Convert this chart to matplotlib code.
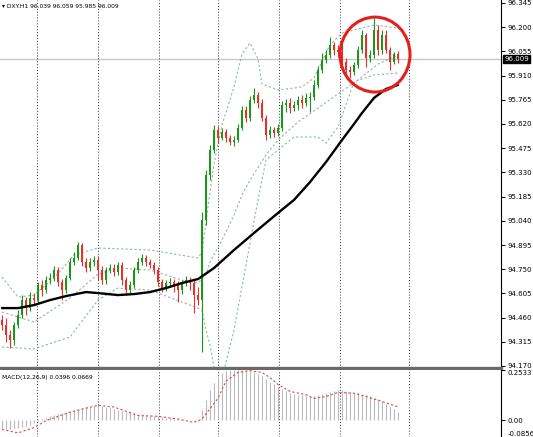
"""DXY H1 candlestick chart with Bollinger bands, MA and MACD panel (MT4 style)."""

import matplotlib

matplotlib.use("Agg")
import matplotlib.pyplot as plt
import matplotlib.transforms as mtransforms
from matplotlib.patches import Ellipse
import numpy as np

TITLE = "\u25be DXY.H1 96.039 96.059 95.985 96.009"
MACD_TITLE = "MACD(12,26,9) 0.0396 0.0669"

first_open = 94.446
closes = [94.416, 94.356, 94.326, 94.416, 94.475, 94.565, 94.517, 94.577, 94.565, 94.655,
          94.625, 94.685, 94.697, 94.745, 94.673, 94.625, 94.697, 94.793, 94.817, 94.895,
          94.793, 94.757, 94.793, 94.805, 94.745, 94.685, 94.745, 94.757, 94.733, 94.775,
          94.685, 94.625, 94.655, 94.745, 94.793, 94.817, 94.793, 94.775, 94.745, 94.673,
          94.637, 94.667, 94.673, 94.655, 94.625, 94.667, 94.685, 94.667, 94.595, 94.565,
          95.045, 95.314, 95.464, 95.584, 95.536, 95.572, 95.536, 95.512, 95.524, 95.596,
          95.704, 95.656, 95.764, 95.794, 95.746, 95.656, 95.554, 95.584, 95.566, 95.596,
          95.734, 95.746, 95.716, 95.734, 95.764, 95.746, 95.776, 95.782, 95.854, 95.944,
          96.003, 96.033, 96.093, 96.063, 96.051, 95.991, 95.944, 95.932, 95.973, 96.063,
          96.153, 96.015, 96.033, 96.183, 96.063, 96.153, 96.063, 95.991, 96.039, 96.009]
highs = [94.475, 94.457, 94.386, 94.434, 94.505, 94.595, 94.583, 94.613, 94.607, 94.673,
         94.685, 94.709, 94.727, 94.769, 94.763, 94.691, 94.715, 94.817, 94.853, 94.913,
         94.907, 94.817, 94.817, 94.829, 94.829, 94.769, 94.763, 94.781, 94.781, 94.793,
         94.793, 94.703, 94.679, 94.763, 94.817, 94.841, 94.835, 94.811, 94.793, 94.763,
         94.691, 94.685, 94.697, 94.691, 94.679, 94.685, 94.709, 94.703, 94.685, 94.643,
         95.093, 95.344, 95.494, 95.614, 95.608, 95.596, 95.590, 95.554, 95.548, 95.620,
         95.728, 95.728, 95.788, 95.836, 95.812, 95.770, 95.674, 95.608, 95.602, 95.620,
         95.758, 95.770, 95.776, 95.758, 95.788, 95.794, 95.806, 95.812, 95.884, 95.967,
         96.045, 96.063, 96.141, 96.111, 96.093, 96.099, 96.015, 95.967, 95.991, 96.087,
         96.183, 96.165, 96.063, 96.255, 96.213, 96.183, 96.183, 96.081, 96.051, 96.059]
lows = [94.386, 94.314, 94.278, 94.296, 94.398, 94.457, 94.475, 94.499, 94.535, 94.547,
        94.589, 94.607, 94.661, 94.679, 94.649, 94.565, 94.607, 94.685, 94.775, 94.805,
        94.769, 94.733, 94.739, 94.769, 94.685, 94.661, 94.661, 94.727, 94.709, 94.715,
        94.655, 94.595, 94.607, 94.637, 94.727, 94.775, 94.769, 94.757, 94.721, 94.649,
        94.613, 94.619, 94.643, 94.613, 94.553, 94.601, 94.649, 94.625, 94.487, 94.535,
        94.254, 95.015, 95.284, 95.446, 95.506, 95.524, 95.512, 95.494, 95.488, 95.512,
        95.584, 95.632, 95.638, 95.746, 95.716, 95.638, 95.524, 95.536, 95.542, 95.548,
        95.578, 95.692, 95.686, 95.698, 95.704, 95.716, 95.728, 95.692, 95.764, 95.836,
        95.926, 95.985, 96.015, 96.033, 96.021, 95.973, 95.926, 95.896, 95.914, 95.955,
        96.045, 95.961, 95.991, 96.015, 96.033, 96.039, 96.045, 95.944, 95.979, 95.985]

# moving average (black), read at a few bars
ma_idx = [0, 4, 8, 12, 16, 21, 24, 29, 33, 37, 41, 45, 49, 53, 58, 63, 69, 73, 77, 81,
          85, 88, 90, 93, 96, 99]
ma_val = [94.517, 94.517, 94.535, 94.565, 94.589, 94.613, 94.607, 94.595, 94.601, 94.613,
          94.637, 94.667, 94.691, 94.757, 94.865, 94.967, 95.087, 95.165, 95.272, 95.392,
          95.524, 95.620, 95.686, 95.776, 95.830, 95.854]

# bollinger bands, read at a few bars
bb_up_idx = [0, 4, 8, 13, 18, 24, 37, 49, 50, 51, 52, 53, 54, 55, 58, 60, 62, 64, 65, 69,
             75, 78, 82, 85, 88, 93, 99]
bb_up_val = [94.703, 94.583, 94.595, 94.697, 94.835, 94.877, 94.865, 94.817, 94.853, 95.033,
             95.213, 95.380, 95.500, 95.614, 95.842, 96.040, 96.105, 96.010, 95.860, 95.824,
             95.842, 95.896, 96.093, 96.165, 96.183, 96.213, 96.195]
bb_mid_idx = [0, 8, 17, 24, 29, 37, 45, 49, 50, 51, 52, 55, 58, 60, 62, 66, 69, 74, 79, 84,
              89, 94, 99]
bb_mid_val = [94.493, 94.434, 94.577, 94.721, 94.757, 94.745, 94.685, 94.667, 94.691, 94.721,
              94.793, 94.925, 95.075, 95.195, 95.284, 95.434, 95.524, 95.632, 95.716, 95.800,
              95.884, 95.979, 96.033]
bb_lo_idx = [0, 8, 17, 24, 29, 37, 49, 50, 51, 52, 53, 54, 55, 56, 58, 61, 64, 66, 69, 73,
             79, 81, 84, 88, 93, 99]
bb_lo_val = [94.284, 94.272, 94.344, 94.565, 94.637, 94.625, 94.517, 94.505, 94.386, 94.296,
             94.158, 94.086, 94.098, 94.194, 94.386, 94.775, 95.165, 95.404, 95.464, 95.542,
             95.542, 95.506, 95.602, 95.872, 95.914, 95.926]

macd_hist = [-0.040, -0.045, -0.045, -0.042, -0.040, -0.036, -0.030, -0.024, -0.015, -0.006,
             0.004, 0.012, 0.020, 0.026, 0.031, 0.036, 0.041, 0.046, 0.051, 0.056,
             0.061, 0.064, 0.067, 0.071, 0.075, 0.072, 0.068, 0.063, 0.058, 0.053,
             0.048, 0.043, 0.039, 0.035, 0.032, 0.029, 0.027, 0.025, 0.022, 0.019,
             0.016, 0.012, 0.009, 0.006, 0.004, 0.003, 0.002, 0.000, -0.003, -0.006,
             0.050, 0.100, 0.150, 0.190, 0.220, 0.238, 0.248, 0.252, 0.253, 0.253,
             0.252, 0.250, 0.247, 0.242, 0.234, 0.222, 0.208, 0.194, 0.180, 0.166,
             0.155, 0.146, 0.139, 0.133, 0.128, 0.125, 0.123, 0.122, 0.124, 0.128,
             0.132, 0.136, 0.141, 0.146, 0.150, 0.150, 0.147, 0.143, 0.139, 0.135,
             0.131, 0.126, 0.120, 0.114, 0.107, 0.095, 0.082, 0.068, 0.054, 0.040]
signal_idx = [0, 4, 8, 11, 17, 24, 28, 34, 39, 44, 48, 50, 54, 56, 59, 62, 65, 67, 69, 72,
              76, 78, 81, 84, 88, 91, 94, 99]
signal_val = [-0.047, -0.065, -0.038, -0.003, 0.040, 0.075, 0.066, 0.023, 0.019, 0.005,
              -0.012, 0.005, 0.110, 0.197, 0.241, 0.250, 0.241, 0.215, 0.180, 0.145,
              0.128, 0.110, 0.119, 0.140, 0.136, 0.119, 0.101, 0.067]

price_ticks = [96.345, 96.200, 96.055, 95.910, 95.765, 95.620, 95.475, 95.330, 95.185,
               95.040, 94.895, 94.750, 94.605, 94.460, 94.315, 94.170]
macd_ticks = [0.2533, 0.0, -0.0856]
day_breaks = [8.75, 24, 39.25, 54, 69.25, 84.5, 101.75]

W, H = 533, 437
PLOT_W = 501
MAIN_BOTTOM = 368
SUB_TOP = 370
XLIM = (-0.5, 124.75)
GREEN = "#1a961a"
RED = "#e8302a"
BAND = "#93b5aa"
FS = 5.0
FS_SMALL = 4.3


def style_axis(ax):
    ax.set_xlim(*XLIM)
    ax.set_xticks([])
    ax.yaxis.tick_right()
    ax.tick_params(axis="y", direction="out", length=3, width=0.7, labelsize=FS, pad=1.5)
    for side in ("left", "top", "bottom"):
        ax.spines[side].set_visible(False)
    ax.spines["right"].set_linewidth(0.8)
    for x in day_breaks:
        ax.axvline(x, color="#333333", lw=0.7, ls=(0, (1, 2)), zorder=1)


def draw_candles(ax):
    c = np.array(closes)
    o = np.r_[first_open, c[:-1]]
    h = np.array(highs)
    lo = np.array(lows)
    idx = np.arange(len(c))
    up = c >= o
    colors = np.where(up, GREEN, RED)
    ax.vlines(idx, lo, h, colors=colors, lw=0.8, zorder=3)
    body = np.where(np.abs(c - o) < 0.002, 0.002, c - o)
    ax.bar(idx, body, bottom=o, width=0.7, color=colors, lw=0, zorder=4)


fig = plt.figure(figsize=(W / 100, H / 100), dpi=100)
ax = fig.add_axes([0, 1 - MAIN_BOTTOM / H, PLOT_W / W, MAIN_BOTTOM / H])
ax2 = fig.add_axes([0, 0, PLOT_W / W, (H - SUB_TOP) / H])

# main price panel
style_axis(ax)
px = 0.145 / 24.2
ax.set_ylim(price_ticks[-1] - 2 * px, price_ticks[0] + 3 * px)
ax.set_yticks(price_ticks)
ax.set_yticklabels([f"{t:.3f}" for t in price_ticks])
ax.spines["bottom"].set_visible(True)
ax.spines["bottom"].set_color("#6a6a6a")
ax.spines["bottom"].set_linewidth(2.4)

last = closes[-1]
ax.axhline(last, color="#c8c8c8", lw=1.0, zorder=0)

for bi, bv in ((bb_up_idx, bb_up_val), (bb_mid_idx, bb_mid_val), (bb_lo_idx, bb_lo_val)):
    ax.plot(bi, bv, color=BAND, lw=0.8, ls=(0, (2, 2)), zorder=2)

draw_candles(ax)
ax.plot(ma_idx, ma_val, color="black", lw=1.7, zorder=5, solid_capstyle="round",
        solid_joinstyle="round")

ax.add_patch(Ellipse((93.25, 96.036), 17.5, 0.449, fill=False, ec="#e3201b", lw=2.2, zorder=6))

trans = mtransforms.blended_transform_factory(ax.transAxes, ax.transData)
ax.text(1.006, last, f"{last:.3f}", transform=trans, ha="left", va="center", color="white",
        fontsize=FS, bbox=dict(boxstyle="square,pad=0.2", fc="black", ec="black"), zorder=7)
ax.text(0.004, 1 - 7 / MAIN_BOTTOM, TITLE, transform=ax.transAxes, ha="left", va="center",
        fontsize=FS_SMALL, color="black")

# MACD panel
style_axis(ax2)
ax2.set_ylim(macd_ticks[-1], macd_ticks[0])
ax2.set_yticks(macd_ticks)
labels = ax2.set_yticklabels(["0.2533", "0.00", "-0.0856"])
labels[0].set_va("top")
labels[-1].set_va("bottom")
ax2.vlines(np.arange(len(macd_hist)), 0, macd_hist, colors="#b9b9b9", lw=0.8, zorder=2)
ax2.plot(signal_idx, signal_val, color="#e04848", lw=0.8, ls=(0, (2, 2)), zorder=3)
ax2.text(0.004, 1 - 7 / (H - SUB_TOP), MACD_TITLE, transform=ax2.transAxes, ha="left",
         va="center", fontsize=FS_SMALL, color="black")

fig.savefig("out.png", dpi=100)
